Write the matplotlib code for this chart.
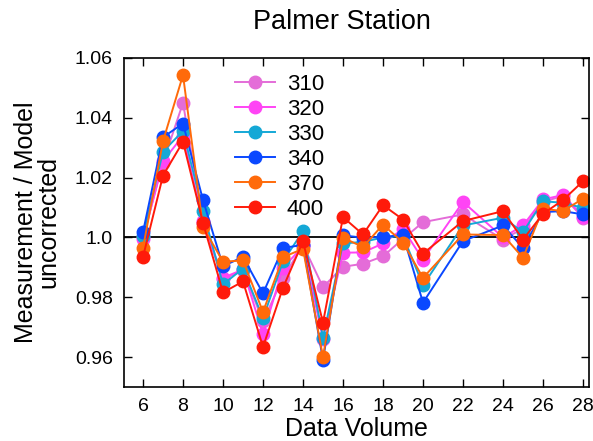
import matplotlib
matplotlib.use('Agg')
import matplotlib.pyplot as plt

plt.rcParams['font.family'] = ['Liberation Sans', 'DejaVu Sans']

# data volume (no points at 21 and 23)
volume = [6, 7, 8, 9, 10, 11, 12, 13, 14, 15, 16, 17, 18, 19, 20, 22, 24, 25, 26, 27, 28]

r310 = [1.0000, 1.0250, 1.0450, 1.0050, 0.9860, 0.9890, 0.9720, 0.9865, 0.9975, 0.9834, 0.9902,
        0.9912, 0.9937, 0.9995, 1.0051, 1.0077, 0.9993, 1.0030, 1.0120, 1.0138, 1.0066]
r320 = [0.9995, 1.0255, 1.0340, 1.0055, 0.9865, 0.9893, 0.9676, 0.9899, 0.9970, 0.9660, 0.9949,
        0.9950, 0.9980, 1.0029, 0.9926, 1.0119, 1.0000, 1.0040, 1.0127, 1.0142, 1.0070]
r330 = [1.0005, 1.0287, 1.0356, 1.0088, 0.9843, 0.9896, 0.9730, 0.9920, 1.0021, 0.9665, 0.9980,
        0.9985, 1.0000, 1.0005, 0.9840, 1.0040, 1.0066, 1.0018, 1.0121, 1.0116, 1.0099]
r340 = [1.0018, 1.0335, 1.0381, 1.0125, 0.9904, 0.9935, 0.9813, 0.9965, 0.9975, 0.9590, 1.0007,
        0.9999, 1.0002, 1.0008, 0.9782, 0.9988, 1.0040, 0.9965, 1.0085, 1.0088, 1.0077]
r370 = [0.9965, 1.0322, 1.0543, 1.0035, 0.9919, 0.9923, 0.9751, 0.9934, 0.9962, 0.9600, 0.9999,
        0.9968, 1.0043, 0.9983, 0.9865, 1.0010, 1.0008, 0.9932, 1.0096, 1.0088, 1.0130]
r400 = [0.9935, 1.0207, 1.0320, 1.0049, 0.9816, 0.9853, 0.9634, 0.9832, 0.9987, 0.9715, 1.0068,
        1.0010, 1.0108, 1.0060, 0.9946, 1.0055, 1.0088, 0.9993, 1.0079, 1.0125, 1.0188]

labels = ['310', '320', '330', '340', '370', '400']
colors = ['#E46CD8', '#FF44F5', '#14A8D6', '#0A48FF', '#FF6A0A', '#FF1A0A']
series = [r310, r320, r330, r340, r370, r400]

fig = plt.figure(figsize=(5.93, 4.41), dpi=100)
ax = fig.add_axes([124/593, 1 - 387/441, 465/593, 329/441])

ax.axhline(1.0, color='black', lw=1.3, zorder=1)
for vals, lab, col in zip(series, labels, colors):
    ax.plot(volume, vals, '-o', color=col, label=lab, lw=1.4, ms=9, zorder=2)

ax.set_xlim(5.05, 28.3)
ax.set_ylim(0.95, 1.06)
ax.set_xticks(range(6, 29, 2))
ax.set_yticks([0.96, 0.98, 1.0, 1.02, 1.04, 1.06])
ax.set_yticklabels(['0.96', '0.98', '1.0', '1.02', '1.04', '1.06'])
ax.tick_params(direction='in', top=True, right=True, length=6, width=1, labelsize=14)
ax.tick_params(axis='x', pad=8)
ax.tick_params(axis='y', pad=8)
for s in ax.spines.values():
    s.set_linewidth(1.2)

ax.set_xlabel('Data Volume', fontsize=18, labelpad=1)
ax.set_ylabel('Measurement / Model\nuncorrected', fontsize=18, linespacing=0.92, labelpad=10)
fig.text(342/593, 1 - 22/441, 'Palmer Station', fontsize=19.5, ha='center', va='center')

ax.legend(loc='upper left', bbox_to_anchor=(0.207, 0.995), frameon=False, fontsize=16,
          handlelength=1.8, handletextpad=0.55, labelspacing=0.18, borderaxespad=0.25)

fig.savefig('out.png', dpi=100)
